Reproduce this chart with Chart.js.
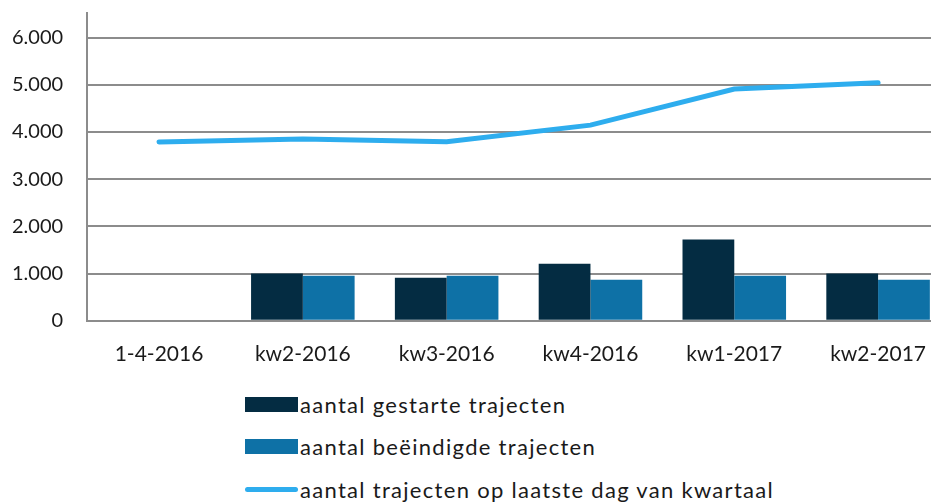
<!DOCTYPE html>
<html>
<head>
<meta charset="utf-8">
<script src="https://cdn.jsdelivr.net/npm/chart.js@4.4.1/dist/chart.umd.min.js"></script>
<style>
  html,body{margin:0;padding:0;background:#fff;overflow:hidden;}
  #wrap{position:absolute;left:0;top:0;width:950px;height:380px;}
  #legend{position:absolute;left:245px;top:383px;font-family:Lato,"Open Sans",sans-serif;font-size:22px;letter-spacing:1.3px;color:#1a1a1a;}
  #legend div{height:42.5px;display:flex;align-items:center;}
  #legend span.box{display:inline-block;width:53px;margin-right:2px;}
</style>
</head>
<body>
<div id="wrap"><canvas id="chart"></canvas></div>
<div id="legend"></div>
<script>
const categories=["1-4-2016","kw2-2016","kw3-2016","kw4-2016","kw1-2017","kw2-2017"];
const gestart=[0,1000,910,1210,1720,1000];
const beeindigd=[0,955,955,870,955,870];
const opLaatsteDag=[3790,3850,3795,4145,4910,5045];
const yTicks=[0,1000,2000,3000,4000,5000,6000];

const names=["aantal gestarte trajecten","aantal beëindigde trajecten","aantal trajecten op laatste dag van kwartaal"];
const colors=["#042c42","#0e71a6","#2eadee"];

const fmt=v=>v.toLocaleString("nl-NL");

new Chart(document.getElementById("chart"),{
  type:"bar",
  data:{
    labels:categories,
    datasets:[
      {type:"line",label:names[2],data:opLaatsteDag,borderColor:colors[2],borderWidth:5,pointRadius:0,tension:0,borderCapStyle:"round",order:0},
      {label:names[0],data:gestart,backgroundColor:colors[0],barPercentage:1,categoryPercentage:0.72,order:1},
      {label:names[1],data:beeindigd,backgroundColor:colors[1],barPercentage:1,categoryPercentage:0.72,order:2}
    ]
  },
  options:{
    responsive:true,maintainAspectRatio:false,animation:false,
    layout:{padding:{top:13,left:-12,right:0,bottom:0}},
    plugins:{legend:{display:false},tooltip:{enabled:false}},
    scales:{
      x:{
        grid:{display:false},
        border:{display:false},
        ticks:{color:"#1a1a1a",font:{family:"Lato",size:21},padding:13,maxRotation:0}
      },
      y:{
        min:0,max:6520,
        afterBuildTicks:ax=>{ax.ticks=yTicks.map(v=>({value:v}));},
        afterFit:s=>{s.paddingTop=0;},
        grid:{color:"#8c8c8c",lineWidth:2,drawTicks:false},
        border:{display:true,color:"#8c8c8c",width:2},
        ticks:{color:"#1a1a1a",font:{family:"Lato",size:20},padding:24,callback:v=>fmt(v)}
      }
    }
  }
});

const legend=document.getElementById("legend");
names.forEach((n,i)=>{
  const row=document.createElement("div");
  const box=i<2?`<span class="box" style="height:15px;background:${colors[i]}"></span>`:`<span class="box" style="height:5px;border-radius:3px;background:${colors[i]}"></span>`;
  row.innerHTML=box+n;
  legend.appendChild(row);
});
</script>
</body>
</html>
